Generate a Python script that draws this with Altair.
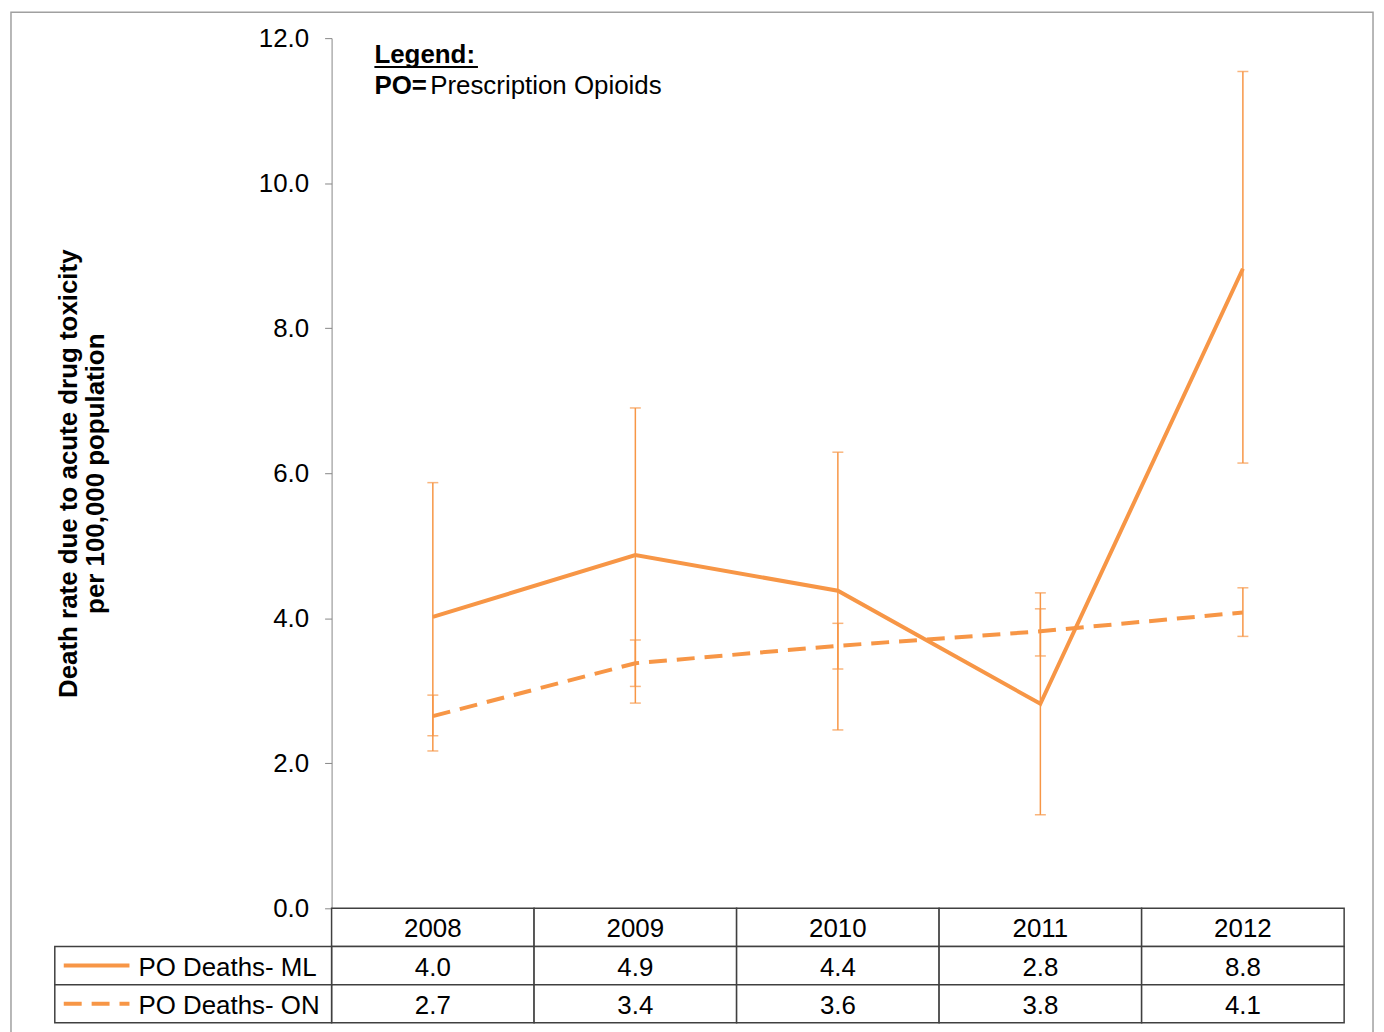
import altair as alt
import pandas as pd

years = ["2008", "2009", "2010", "2011", "2012"]
ml = [4.02, 4.87, 4.38, 2.82, 8.82]
ml_lo = [2.17, 2.83, 2.46, 1.29, 6.14]
ml_hi = [5.87, 6.90, 6.29, 4.35, 11.54]
on = [2.65, 3.38, 3.62, 3.82, 4.08]
on_lo = [2.38, 3.06, 3.30, 3.48, 3.75]
on_hi = [2.94, 3.70, 3.93, 4.13, 4.42]
ml_lbl = ["4.0", "4.9", "4.4", "2.8", "8.8"]
on_lbl = ["2.7", "3.4", "3.6", "3.8", "4.1"]

C = "#F79646"
F = "Liberation Sans"
FS = 26
W, H, TH = 1017, 874, 115

rows = []
for i, y in enumerate(years):
    rows.append(dict(year=y, s="ML", v=ml[i], lo=ml_lo[i], hi=ml_hi[i]))
    rows.append(dict(year=y, s="ON", v=on[i], lo=on_lo[i], hi=on_hi[i]))
df = pd.DataFrame(rows)

xs = alt.X("year:N", scale=alt.Scale(domain=years, paddingInner=0, paddingOuter=0),
           axis=alt.Axis(labels=False, ticks=False, domain=False, title=None))
ys = alt.Scale(domain=[0, 12])
yax = alt.Axis(values=[0, 2, 4, 6, 8, 10, 12], format=".1f", grid=False, labelFont=F,
               labelFontSize=FS, labelColor="black", tickColor="#868686", domainColor="#868686",
               tickSize=7, labelPadding=16,
               title=["Death rate due to acute drug toxicity", "per 100,000 population"],
               titleFont=F, titleFontSize=FS, titleFontWeight="bold", titleColor="black",
               titlePadding=150)

base = alt.Chart(df)
line_ml = base.transform_filter("datum.s=='ML'").mark_line(color=C, strokeWidth=4).encode(
    x=xs, y=alt.Y("v:Q", scale=ys, axis=yax))
line_on = base.transform_filter("datum.s=='ON'").mark_line(color=C, strokeWidth=4, strokeDash=[18, 10]).encode(
    x=xs, y=alt.Y("v:Q", scale=ys))
err = base.mark_rule(color=C, strokeWidth=1.5).encode(x=xs, y=alt.Y("lo:Q", scale=ys), y2="hi:Q")
cap_lo = base.mark_tick(color=C, orient="horizontal", size=11, thickness=1.5).encode(x=xs, y=alt.Y("lo:Q", scale=ys))
cap_hi = base.mark_tick(color=C, orient="horizontal", size=11, thickness=1.5).encode(x=xs, y=alt.Y("hi:Q", scale=ys))

one = alt.Chart(pd.DataFrame({"a": [1]}))
leg1 = one.mark_text(text="Legend:", font=F, fontSize=FS, fontWeight="bold", align="left", baseline="alphabetic").encode(
    x=alt.value(43), y=alt.value(25))
leg_ul = one.mark_rule(color="black", strokeWidth=2).encode(x=alt.value(43), x2=alt.value(147), y=alt.value(29), y2=alt.value(29))
leg2 = one.mark_text(text="PO=", font=F, fontSize=FS, fontWeight="bold", align="left", baseline="alphabetic").encode(
    x=alt.value(43), y=alt.value(56))
leg3 = one.mark_text(text="Prescription Opioids", font=F, fontSize=FS, align="left", baseline="alphabetic").encode(
    x=alt.value(99), y=alt.value(56))
frame = one.mark_rect(fill=None, stroke="#A0A0A0", strokeWidth=1.5).encode(
    x=alt.value(-322), x2=alt.value(1046), y=alt.value(-26), y2=alt.value(1000))

top = alt.layer(frame, err, cap_lo, cap_hi, line_on, line_ml, leg1, leg_ul, leg2, leg3).properties(width=W, height=H)

trows = ["yr", "ML", "ON"]
tr = []
for i, y in enumerate(years):
    tr.append(dict(year=y, r="yr", t=y))
    tr.append(dict(year=y, r="ML", t=ml_lbl[i]))
    tr.append(dict(year=y, r="ON", t=on_lbl[i]))
tdf = pd.DataFrame(tr)
ty = alt.Y("r:N", scale=alt.Scale(domain=trows, paddingInner=0, paddingOuter=0), axis=None)
tb = alt.Chart(tdf)
cells = tb.mark_rect(fill="white", stroke="#404040", strokeWidth=1.5).encode(x=xs, y=ty)
texts = tb.mark_text(font=F, fontSize=FS, baseline="middle", dy=2).encode(x=xs, y=ty, text="t:N")
hdf = pd.DataFrame({"r": ["ML", "ON"], "lab": ["PO Deaths- ML", "PO Deaths- ON"]})
hb = alt.Chart(hdf)
hcells = hb.mark_rect(fill="white", stroke="#404040", strokeWidth=1.5).encode(
    x=alt.value(-278), x2=alt.value(0), y=ty)
htext = hb.mark_text(font=F, fontSize=FS, align="left", baseline="middle", dy=2).encode(
    x=alt.value(-194), y=ty, text="lab:N")
k1 = hb.transform_filter("datum.r=='ML'").mark_rule(color=C, strokeWidth=4).encode(
    x=alt.value(-269), x2=alt.value(-203), y=ty)
k2 = hb.transform_filter("datum.r=='ON'").mark_rule(color=C, strokeWidth=4, strokeDash=[18, 10]).encode(
    x=alt.value(-269), x2=alt.value(-203), y=ty)
table = alt.layer(cells, texts, hcells, htext, k1, k2).properties(width=W, height=TH)

chart = alt.vconcat(top, table, spacing=0, bounds="flush").properties(
    padding={"left": 2, "top": 1, "right": 2, "bottom": 2}
).configure(background="white", view=alt.ViewConfig(stroke=None))

chart.save("out.html", embed_options={"renderer": "svg", "actions": False})
